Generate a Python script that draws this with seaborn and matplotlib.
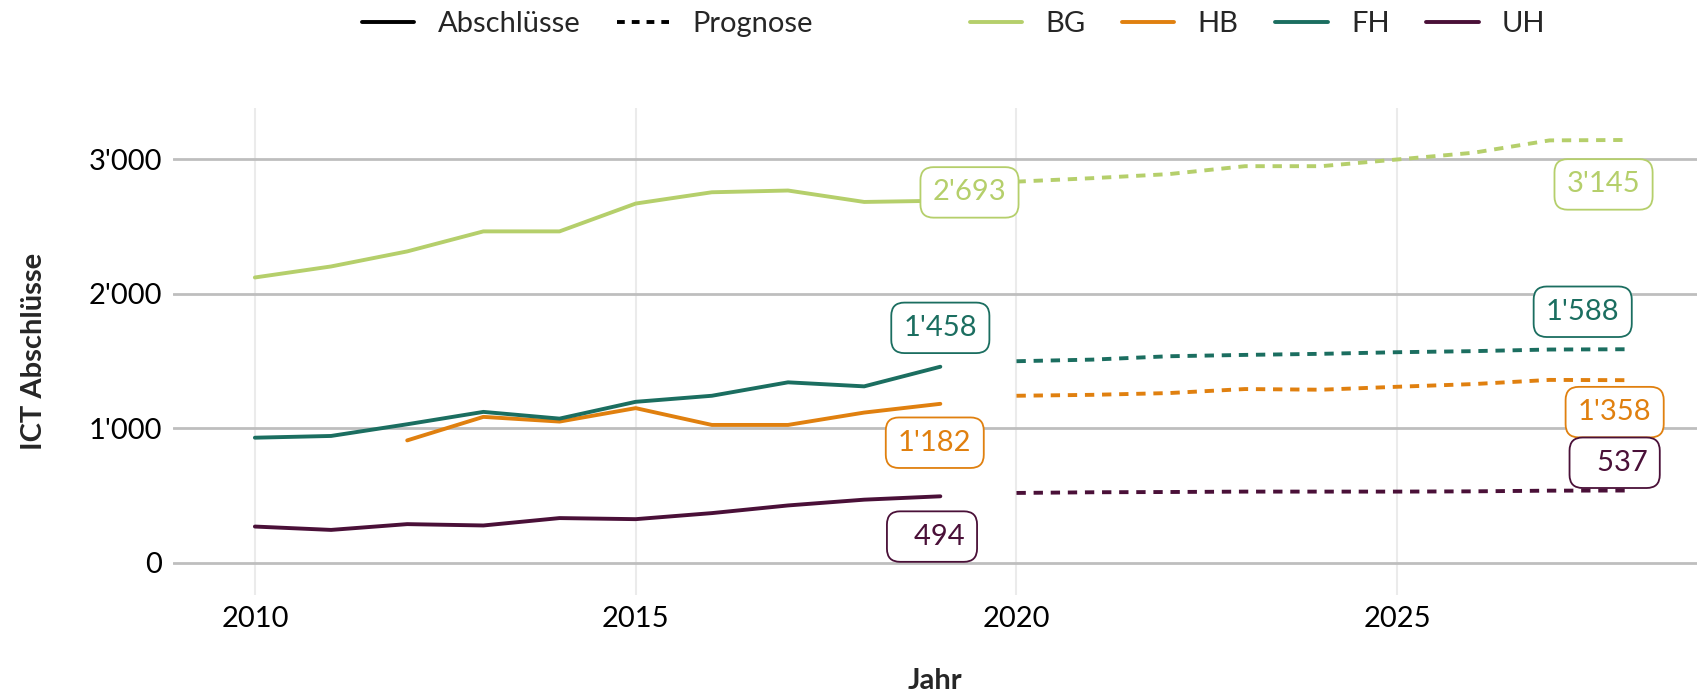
import numpy as np
import pandas as pd
import matplotlib
matplotlib.use("Agg")
import matplotlib.pyplot as plt
import matplotlib.ticker as mticker
from matplotlib.lines import Line2D
import seaborn as sns

# data
jahre_ist = [2010, 2011, 2012, 2013, 2014, 2015, 2016, 2017, 2018, 2019]
bg_ist = [2122, 2204, 2316, 2465, 2465, 2672, 2756, 2769, 2684, 2693]
hb_ist = [np.nan, np.nan, 910, 1085, 1050, 1150, 1025, 1025, 1117, 1182]
fh_ist = [930, 943, 1030, 1122, 1072, 1197, 1242, 1342, 1312, 1458]
uh_ist = [269, 244, 287, 277, 332, 324, 369, 426, 469, 494]

jahre_prog = [2020, 2021, 2022, 2023, 2024, 2025, 2026, 2027, 2028]
bg_prog = [2835, 2861, 2891, 2950, 2950, 3000, 3050, 3142, 3145]
hb_prog = [1242, 1249, 1262, 1292, 1287, 1309, 1329, 1360, 1358]
fh_prog = [1499, 1511, 1536, 1546, 1554, 1566, 1574, 1586, 1588]
uh_prog = [519, 524, 526, 529, 529, 529, 531, 536, 537]

typen = ["BG", "HB", "FH", "UH"]
farben = {"BG": "#b5cf6b", "HB": "#e0800f", "FH": "#1b6e60", "UH": "#4a1038"}

rows = []
for typ, ist, prog in zip(typen, [bg_ist, hb_ist, fh_ist, uh_ist],
                          [bg_prog, hb_prog, fh_prog, uh_prog]):
    for j, v in zip(jahre_ist, ist):
        rows.append({"Jahr": j, "Wert": v, "Typ": typ, "Art": "Abschlüsse"})
    for j, v in zip(jahre_prog, prog):
        rows.append({"Jahr": j, "Wert": v, "Typ": typ, "Art": "Prognose"})
df = pd.DataFrame(rows).dropna()

sns.set_theme(style="whitegrid")
plt.rcParams["font.family"] = ["Lato", "DejaVu Sans"]

fig = plt.figure(figsize=(17, 6.94), dpi=100)
ax = fig.add_axes([0.102, 0.1427, 0.896, 0.7017])

sns.lineplot(data=df, x="Jahr", y="Wert", hue="Typ", style="Art",
             palette=farben, hue_order=typen,
             dashes={"Abschlüsse": "", "Prognose": (2.4, 2.0)},
             linewidth=2.8, legend=False, ax=ax, estimator=None,
             units="Typ", sort=True)

ax.set_xlim(2008.93, 2028.93)
ax.set_ylim(-240, 3383)
ax.set_xticks([2010, 2015, 2020, 2025])
ax.set_yticks([0, 1000, 2000, 3000])
ax.yaxis.set_major_formatter(mticker.FuncFormatter(lambda v, p: f"{int(v):,}".replace(",", "'")))
ax.tick_params(axis="both", labelsize=21, length=0, pad=8, colors="black")
ax.grid(axis="y", color="#bebebe", linewidth=2)
ax.grid(axis="x", color="#ebebeb", linewidth=1.5)
for s in ax.spines.values():
    s.set_visible(False)

ax.set_xlabel("Jahr", fontsize=21, fontweight="bold", labelpad=26)
ax.set_ylabel("ICT Abschlüsse", fontsize=21, fontweight="bold", labelpad=30)

# end labels
def fmt(v):
    s = f"{int(v):,}".replace(",", "'")
    return s if len(s) > 3 else "  " + s

offsets_ist = {"BG": (21, 6), "FH": (0, 28), "HB": (-4, -28), "UH": (-6, -29)}
offsets_prog = {"BG": (-16, -32), "FH": (-31, 27), "HB": (-8, -23), "UH": (-8, 20)}
for typ, ist, prog in zip(typen, [bg_ist, hb_ist, fh_ist, uh_ist],
                          [bg_prog, hb_prog, fh_prog, uh_prog]):
    for jahr, wert, off in [(jahre_ist[-1], ist[-1], offsets_ist[typ]),
                            (jahre_prog[-1], prog[-1], offsets_prog[typ])]:
        ax.annotate(fmt(wert), xy=(jahr, wert), xytext=off, textcoords="offset points",
                    ha="center", va="center", fontsize=21, color=farben[typ],
                    bbox=dict(boxstyle="round,pad=0.42,rounding_size=0.45",
                              fc="white", ec=farben[typ], lw=1.3), zorder=5)

# legend at top
handles = [Line2D([], [], color="black", lw=2.8, label="Abschlüsse"),
           Line2D([], [], color="black", lw=2.8, ls=(0, (2.0, 1.8)), label="Prognose"),
           Line2D([], [], color="none", label=" ")]
handles += [Line2D([], [], color=farben[t], lw=2.8, label=t) for t in typen]
fig.legend(handles=handles, loc="center", bbox_to_anchor=(0.561, 0.965), ncol=7,
           frameon=False, fontsize=21, handlelength=1.8, columnspacing=1.25,
           handletextpad=0.8)

plt.savefig("out.png", dpi=100)
